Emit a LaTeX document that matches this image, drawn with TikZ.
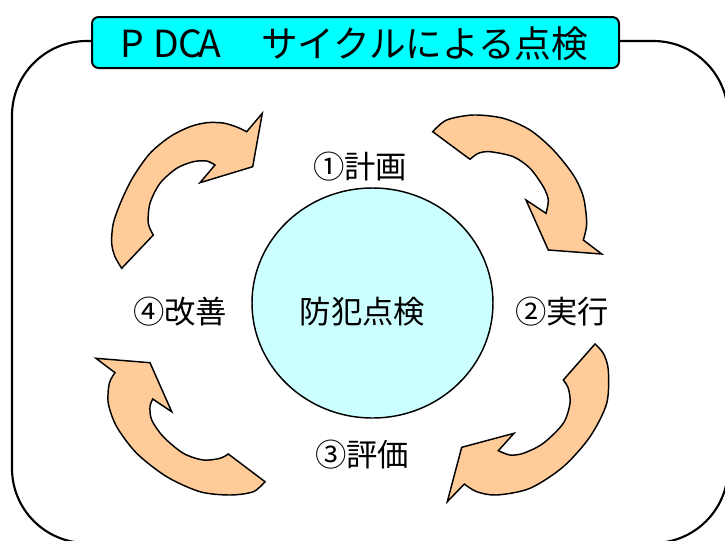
\documentclass[tikz,border=0pt]{standalone}
\usepackage{fontspec}
\setmainfont{Noto Sans CJK JP}
\usetikzlibrary{shapes.geometric}
\definecolor{peach}{HTML}{FFCC99}
\definecolor{hubfill}{HTML}{CCFFFF}
\definecolor{titlefill}{HTML}{00FFFF}
\begin{document}
\begin{tikzpicture}[x=0.75pt,y=-0.75pt,
  frame/.style={draw=black,line width=1.6pt,rounded corners=56pt},
  titlebox/.style={draw=black,fill=titlefill,line width=1.5pt,rounded corners=5pt},
  arr/.style={fill=peach,draw=black,line width=1.1pt,line join=miter},
  hub/.style={ellipse,draw=black,fill=hubfill,line width=1.1pt,inner sep=0pt,minimum width=180.75pt,minimum height=172.5pt},
  lbl/.style={font=\fontsize{23.5pt}{26pt}\selectfont,inner sep=0pt},
  ttl/.style={font=\fontsize{28pt}{32pt}\selectfont,inner sep=0pt}]
\clip (0,0) rectangle (725,540);
\fill[white] (0,0) rectangle (725,540);
% outer frame
\draw[frame] (12,41) rectangle (728,543);
% title
\draw[titlebox] (92,17) rectangle (619,68);
\node[ttl,anchor=west] (title) at (120.5,44) {\makebox[24.2pt][l]{P}\makebox[18.75pt][l]{D}\makebox[15pt][l]{C}\makebox[47.25pt][l]{A}{\fontsize{27.5pt}{32pt}\selectfont サイクルによる点検}};
% hub
\node[hub] (hub) at (372.5,303) {};
\node[lbl] (hubtext) at (362.5,312) {防犯点検};
% labels
\node[lbl] (plan) at (360,167) {①計画};
\node[lbl] (do) at (562,312) {②実行};
\node[lbl] (check) at (362,455) {③評価};
\node[lbl] (act) at (180,312) {④改善};
% arrow 1 (top-left)
\filldraw[arr] (121.7,268.3) -- plot[smooth] coordinates {(153.3,235) (148.3,223.3) (150,203.3) (160,183.3) (176.7,168.3) (193.3,161.7) (206.7,161) (215,165)}
  -- (200,182.7) -- (252.7,166.7) -- (262.3,113.3) -- plot[smooth] coordinates {(246.7,131.7) (236,126.7) (223,123) (206.7,122.7) (190,126.7) (170,136.7) (150,153.3) (133.3,176.7) (121.7,200) (113.3,223.3) (111.7,243.3) (115,256.7) (121.7,268.3)} -- cycle;
% arrow 2 (top-right)
\filldraw[arr] (432.7,131.7) -- plot[smooth] coordinates {(470,159.3) (478.3,153.3) (490,151.7) (513.3,156.7) (530,168.3) (543.3,186.7) (548.3,200) (546,213.3)}
  -- (526,200) -- (548.3,250) -- (601.7,254) -- plot[smooth] coordinates {(583.3,240) (586.7,223.3) (583.3,196.7) (573.3,175) (553.3,150) (530,130) (503.3,118.3) (473.3,115) (446.7,120) (432.7,131.7)} -- cycle;
% arrow 3 (bottom-right)
\filldraw[arr] (595,344) -- plot[smooth] coordinates {(563.3,380) (568.3,388.3) (570,403.3) (563.3,423.3) (543.3,443.3) (523.3,453.3) (510,455) (498.3,450.7)}
  -- (514,433.3) -- (461.7,447.3) -- (447.3,501.7) -- plot[smooth] coordinates {(464.3,484) (476.7,491.7) (496.7,495) (530,488.3) (563.3,466.7) (590,436.7) (606.7,403.3) (608.3,370) (603.3,353.3) (595,344)} -- cycle;
% arrow 4 (bottom-left)
\filldraw[arr] (265,481.7) -- plot[smooth] coordinates {(228.3,454) (220,458.3) (203.3,460) (183.3,453.3) (163.3,436.7) (151.7,420) (150,406.7) (152.7,399)}
  -- (171.7,411.7) -- (150,362.7) -- (96,358.3) -- plot[smooth] coordinates {(115,372.7) (109.3,383.3) (108.3,403.3) (116.7,426.7) (136.7,453.3) (166.7,476.7) (200,491.7) (230,495) (253.3,491.7) (265,481.7)} -- cycle;
\end{tikzpicture}
\end{document}
